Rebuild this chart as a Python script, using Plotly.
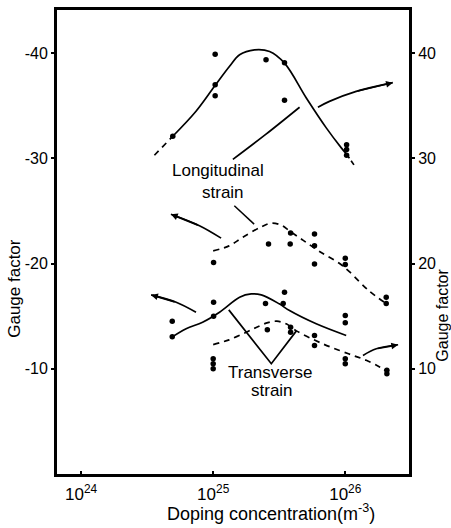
import numpy as np
import plotly.graph_objects as go

# ---------------- data (x as log10 of doping concentration, y as |gauge factor|) ----------------
# Longitudinal strain (solid, upper)
long_top_pts_x = [24.694, 25.015, 25.015, 25.015, 25.40, 25.54, 25.54, 26.01, 26.01, 26.01]
long_top_pts_y = [32.1, 39.9, 37.0, 35.96, 39.37, 39.1, 35.52, 31.3, 30.85, 30.3]
long_top_curve_x = [24.694, 24.87, 25.01, 25.124, 25.2, 25.313, 25.427, 25.54, 25.705, 25.856, 25.97, 26.01]
long_top_curve_y = [32.1, 34.48, 36.85, 38.75, 39.85, 40.32, 40.16, 39.05, 35.74, 32.9, 31.0, 30.4]
long_top_ext_left_x = [24.555, 24.694]
long_top_ext_left_y = [30.3, 32.1]
long_top_ext_right_x = [26.01, 26.07]
long_top_ext_right_y = [30.4, 29.3]

# Longitudinal strain (dashed, middle)
long_mid_pts_x = [25.003, 25.419, 25.583, 25.586, 25.767, 25.767, 25.767, 26.0, 26.0, 26.31, 26.31]
long_mid_pts_y = [20.1, 21.85, 21.85, 22.9, 22.8, 21.7, 19.95, 20.5, 19.9, 16.8, 16.2]
long_mid_curve_x = [25.0, 25.12, 25.22, 25.364, 25.44, 25.515, 25.578, 25.679, 25.805, 25.957, 26.033, 26.18, 26.31]
long_mid_curve_y = [21.2, 21.68, 22.47, 23.49, 23.84, 23.65, 23.1, 22.23, 21.15, 20.0, 19.2, 17.4, 16.2]

# Transverse strain (solid, lower)
trans_sol_pts_x = [24.69, 24.69, 25.003, 25.003, 25.396, 25.54, 25.53, 26.0, 26.0]
trans_sol_pts_y = [14.52, 13.05, 16.32, 15.0, 16.2, 17.27, 16.2, 15.06, 14.37]
trans_sol_curve_x = [24.68, 24.795, 24.92, 25.048, 25.2, 25.288, 25.364, 25.50, 25.578, 25.78, 26.007]
trans_sol_curve_y = [12.94, 13.8, 14.42, 15.37, 16.8, 17.11, 17.02, 16.17, 15.53, 14.27, 13.16]

# Transverse strain (dashed, lower)
trans_dash_pts_x = [25.0, 25.0, 25.0, 25.41, 25.586, 25.586, 25.767, 25.767, 26.0, 26.0, 26.315, 26.315]
trans_dash_pts_y = [10.95, 10.48, 10.0, 13.7, 13.95, 13.47, 13.16, 12.22, 10.95, 10.48, 9.85, 9.53]
trans_dash_curve_x = [25.0, 25.12, 25.25, 25.338, 25.414, 25.482, 25.553, 25.63, 25.83, 25.957, 26.058, 26.159, 26.26, 26.32]
trans_dash_curve_y = [12.3, 12.75, 13.47, 14.0, 14.39, 14.52, 14.27, 13.6, 12.37, 11.74, 11.27, 10.8, 10.17, 9.7]

# Axis-indicator arrows (last point = arrow head)
arrow_long_right_a_x = [25.149, 25.40, 25.654]
arrow_long_right_a_y = [29.9, 32.3, 34.86]
arrow_long_right_b_x = [25.793, 25.88, 26.083, 26.36]
arrow_long_right_b_y = [34.86, 35.42, 36.37, 37.2]
arrow_mid_left_x = [25.06, 24.896, 24.68]
arrow_mid_left_y = [22.42, 23.6, 24.69]
arrow_low_left_x = [24.87, 24.72, 24.53]
arrow_low_left_y = [15.37, 16.32, 17.02]
arrow_low_right_x = [26.134, 26.235, 26.40]
arrow_low_right_y = [11.27, 11.9, 12.28]

# Label pointers
pointer_long_x = [25.16, 25.31]
pointer_long_y = [25.5, 23.75]
pointer_trans_x = [25.118, 25.44, 25.63]
pointer_trans_y = [15.6, 10.48, 13.6]

# Ticks
x_tick_exp = [24, 25, 26]
y_ticks = [10, 20, 30, 40]

X_RANGE = [23.81, 26.49]
Y_RANGE = [-0.1, 44.2]
FONT = "Liberation Sans"

W, H = 451, 528
ML, MR, MT, MB = 56, 41, 7, 53
PW, PH = W - ML - MR, H - MT - MB


def px2paper(px, py):
    return (px - ML) / PW, 1 - (py - MT) / PH


def P(v):
    return np.power(10.0, np.array(v))


fig = go.Figure()


def line(xs, ys, dash="solid", width=1.7, spline=True):
    fig.add_trace(go.Scatter(
        x=P(xs), y=ys, mode="lines",
        line=dict(color="black", width=width, dash=dash,
                  shape="spline" if spline else "linear", smoothing=1.0),
        showlegend=False, hoverinfo="skip"))


def dots(xs, ys):
    fig.add_trace(go.Scatter(
        x=P(xs), y=ys, mode="markers",
        marker=dict(color="black", size=5.5),
        showlegend=False, hoverinfo="skip"))


# curves
line(long_top_curve_x, long_top_curve_y)
line(long_top_ext_left_x, long_top_ext_left_y, dash="6px,5px", spline=False)
line(long_top_ext_right_x, long_top_ext_right_y, dash="5px,3px", spline=False)
line(long_mid_curve_x, long_mid_curve_y, dash="6px,5px")
line(trans_sol_curve_x, trans_sol_curve_y)
line(trans_dash_curve_x, trans_dash_curve_y, dash="6px,5px")

# arrows and pointers
for ax_, ay_ in [(arrow_long_right_a_x, arrow_long_right_a_y),
                 (arrow_long_right_b_x, arrow_long_right_b_y),
                 (arrow_mid_left_x, arrow_mid_left_y),
                 (arrow_low_left_x, arrow_low_left_y),
                 (arrow_low_right_x, arrow_low_right_y)]:
    line(ax_, ay_)
line(pointer_long_x, pointer_long_y, spline=False, width=1.5)
line(pointer_trans_x, pointer_trans_y, spline=False)

# points
dots(long_top_pts_x, long_top_pts_y)
dots(long_mid_pts_x, long_mid_pts_y)
dots(trans_sol_pts_x, trans_sol_pts_y)
dots(trans_dash_pts_x, trans_dash_pts_y)

# arrow heads
for ax_, ay_ in [(arrow_long_right_b_x, arrow_long_right_b_y),
                 (arrow_mid_left_x, arrow_mid_left_y),
                 (arrow_low_left_x, arrow_low_left_y),
                 (arrow_low_right_x, arrow_low_right_y)]:
    fig.add_annotation(x=ax_[-1], y=ay_[-1], ax=ax_[-2], ay=ay_[-2],
                       xref="x", yref="y", axref="x", ayref="y",
                       showarrow=True, arrowhead=2, arrowsize=0.8,
                       arrowwidth=1.7, arrowcolor="black", text="", standoff=0)

# text labels
labels = [("Longitudinal", 218, 169), ("strain", 223, 191),
          ("Transverse", 270, 372), ("strain", 272, 390)]
for t, px, py in labels:
    xp, yp = px2paper(px, py)
    fig.add_annotation(x=xp, y=yp, xref="paper", yref="paper",
                       text=t, showarrow=False, xanchor="center", yanchor="middle",
                       font=dict(family=FONT, size=17, color="black"))

for px, py, fs in [(15, 288, 17), (443, 315, 16)]:
    xp, yp = px2paper(px, py)
    fig.add_annotation(x=xp, y=yp, xref="paper", yref="paper", text="Gauge factor",
                       textangle=-90, showarrow=False, xanchor="center", yanchor="middle",
                       font=dict(family=FONT, size=fs, color="black"))
xp, yp = px2paper(271, 513)
fig.add_annotation(x=xp, y=yp, xref="paper", yref="paper",
                   text="Doping concentration(m<sup>-3</sup>)",
                   showarrow=False, xanchor="center", yanchor="middle",
                   font=dict(family=FONT, size=18, color="black"))

# frame
fig.add_shape(type="rect", xref="paper", yref="paper", x0=0, y0=0, x1=1, y1=1,
              line=dict(color="black", width=2), layer="above")

fig.update_layout(
    width=W, height=H,
    margin=dict(l=ML, r=MR, t=MT, b=MB),
    paper_bgcolor="white", plot_bgcolor="white",
    font=dict(family=FONT, size=16, color="black"),
    xaxis=dict(type="log", range=X_RANGE, showgrid=False, zeroline=False,
               showline=True, linecolor="black", linewidth=2, mirror=True,
               ticks="inside", ticklen=4, tickwidth=1.5, tickcolor="black",
               tickvals=[10.0 ** e for e in x_tick_exp],
               ticktext=[f"10<sup>{e}</sup>" for e in x_tick_exp],
               ticklabelstandoff=3,
               tickfont=dict(family=FONT, size=17)),
    yaxis=dict(range=Y_RANGE, showgrid=False, zeroline=False,
               showline=True, linecolor="black", linewidth=2,
               ticks="outside", ticklen=3, tickwidth=1.5, tickcolor="black",
               tickvals=y_ticks, ticktext=[f"-{v}" for v in y_ticks],
               tickfont=dict(family=FONT, size=16)),
    yaxis2=dict(range=Y_RANGE, overlaying="y", side="right", showgrid=False,
                zeroline=False, showline=True, linecolor="black", linewidth=2,
                ticks="outside", ticklen=3, tickwidth=1.5, tickcolor="black",
                tickvals=y_ticks, ticktext=[str(v) for v in y_ticks],
                tickfont=dict(family=FONT, size=16)),
)
# invisible trace to show right axis
fig.add_trace(go.Scatter(x=[None], y=[None], yaxis="y2", showlegend=False))

fig.write_html("out.html")
